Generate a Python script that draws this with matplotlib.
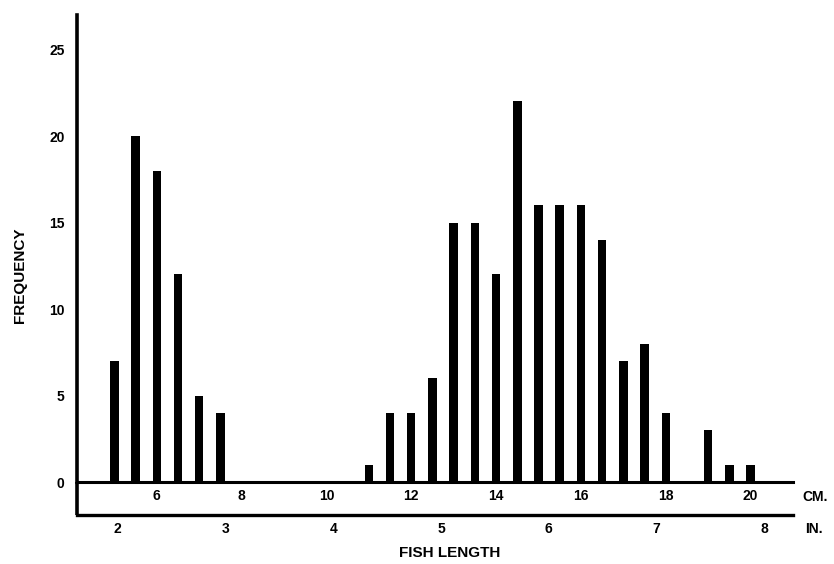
import numpy as np
import matplotlib.pyplot as plt
from matplotlib.lines import Line2D

# fish length classes (cm) and counts
length_cm = [5.0, 5.5, 6.0, 6.5, 7.0, 7.5,
             11.0, 11.5, 12.0, 12.5, 13.0, 13.5, 14.0, 14.5, 15.0, 15.5,
             16.0, 16.5, 17.0, 17.5, 18.0, 19.0, 19.5, 20.0]
frequency = [7, 20, 18, 12, 5, 4,
             1, 4, 4, 6, 15, 15, 12, 22, 16, 16,
             16, 14, 7, 8, 4, 3, 1, 1]

cm_ticks = [6, 8, 10, 12, 14, 16, 18, 20]
in_ticks = [2, 3, 4, 5, 6, 7, 8]
y_ticks = [0, 5, 10, 15, 20, 25]

plt.rcParams['font.family'] = ['Liberation Sans', 'DejaVu Sans']
plt.rcParams['font.weight'] = 'bold'

W, H = 834, 564
fig = plt.figure(figsize=(W / 100, H / 100), dpi=100)
ax = fig.add_axes([77 / W, 1 - 482 / H, (793 - 77) / W, (482 - 15) / H])

ax.bar(length_cm, frequency, width=0.2, color='black', zorder=3)

ax.set_xlim(4.12, 21.0)
ax.set_ylim(0, 27)

for s in ['top', 'right']:
    ax.spines[s].set_visible(False)
ax.spines['left'].set_linewidth(2.6)
ax.spines['bottom'].set_linewidth(2.2)

ax.set_yticks(y_ticks)
ax.set_yticklabels([str(v) for v in y_ticks], fontsize=10, fontweight='bold')
ax.tick_params(axis='y', length=0, pad=9)

ax.set_xticks(cm_ticks)
ax.set_xticklabels([str(v) for v in cm_ticks], fontsize=10, fontweight='bold')
ax.tick_params(axis='x', length=0, pad=5)

# inch scale underneath
loc = -(515 - 482) / (482 - 15)
sec = ax.secondary_xaxis(loc, functions=(lambda c: c / 2.54, lambda i: i * 2.54))
sec.set_xticks(in_ticks)
sec.set_xticklabels([str(v) for v in in_ticks], fontsize=10, fontweight='bold')
sec.tick_params(axis='x', length=0, pad=5)
sec.spines['bottom'].set_linewidth(2.4)

# left line joining the two scales
ax.add_line(Line2D([0, 0], [loc, 0], transform=ax.transAxes, color='black',
                   lw=2.6, clip_on=False, solid_capstyle='butt'))

fig.text(815 / W, 1 - 497 / H, 'CM.', ha='center', va='center', fontsize=10, fontweight='bold')
fig.text(814 / W, 1 - 529 / H, 'IN.', ha='center', va='center', fontsize=10, fontweight='bold')
fig.text(450 / W, 1 - 553 / H, 'FISH LENGTH', ha='center', va='center', fontsize=11, fontweight='bold')
fig.text(20 / W, 1 - 275 / H, 'FREQUENCY', ha='center', va='center', rotation=90,
         fontsize=11, fontweight='bold')

fig.savefig('out.png', dpi=100)
